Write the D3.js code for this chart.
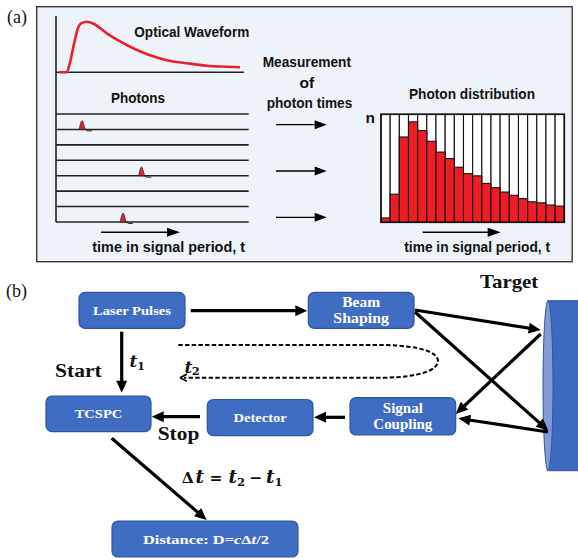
<!DOCTYPE html>
<html>
<head>
<meta charset="utf-8">
<script src="https://cdn.jsdelivr.net/npm/d3@7"></script>
<style>
  body { margin: 0; background: #fff; }
</style>
</head>
<body>
<div id="chart"></div>
<script>
// Panel (a): waveform, photon arrivals, and the resulting histogram.
// Panel (b): the TCSPC ranging block diagram.

const histCounts = [4, 26, 79, 93, 85, 75, 65, 59, 51, 45, 43, 36, 32, 28, 25, 22, 19, 18, 16, 15];
const waveT =   [1.6, 5.5, 7.5, 9.5, 11.5, 13.5, 16.6, 20, 27, 37.6, 48.2, 58.9, 69.5, 80.1, 90.8, 97.9];
const waveAmp = [0, 0, 0.2, 0.55, 0.85, 0.97, 1.0, 0.96, 0.77, 0.54, 0.36, 0.24, 0.18, 0.13, 0.11, 0.1];
const rowCount = 8;
const photonRows = [1, 4, 7];
const photonTimes = [14, 45.6, 35.8];

const boxNames = ["laser", "beam", "tcspc", "detector", "coupling", "distance"];
const boxLines = [["Laser Pulses"], ["Beam", "Shaping"], ["TCSPC"], ["Detector"], ["Signal", "Coupling"], ["Distance:  D="]];

const W = 578, H = 559;
const sans = "'Liberation Sans', Arial, sans-serif";
const serif = "'Liberation Serif', 'Times New Roman', serif";
const mathFont = "'DejaVu Serif', serif";
const BLUE = "#3f6dc4", BLUE_EDGE = "#2f559c";

const svg = d3.select("#chart").append("svg")
  .attr("width", W).attr("height", H).attr("viewBox", `0 0 ${W} ${H}`);
svg.append("rect").attr("width", W).attr("height", H).attr("fill", "#fff");

function label(g, str, x, y, o = {}) {
  const t = g.append("text").attr("x", x).attr("y", y).text(str)
    .attr("font-family", o.family || sans).attr("font-size", o.size || 15.5)
    .attr("font-weight", o.weight || "bold").attr("fill", o.fill || "#111")
    .attr("text-anchor", o.anchor || "start");
  if (o.len) t.attr("textLength", o.len).attr("lengthAdjust", "spacingAndGlyphs");
  if (o.style) t.attr("font-style", o.style);
  return t;
}

// straight arrow with a filled triangular head
function arrow(g, x1, y1, x2, y2, o = {}) {
  const sw = o.sw || 3.2, hl = o.hl || 12, hw = o.hw || 5.5, col = o.color || "#000";
  const a = Math.atan2(y2 - y1, x2 - x1);
  const bx = x2 - hl * Math.cos(a), by = y2 - hl * Math.sin(a);
  g.append("line").attr("x1", x1).attr("y1", y1).attr("x2", bx + Math.cos(a)).attr("y2", by + Math.sin(a))
    .attr("stroke", col).attr("stroke-width", sw);
  const px = -Math.sin(a) * hw, py = Math.cos(a) * hw;
  g.append("path").attr("d", `M${x2},${y2}L${bx + px},${by + py}L${bx - px},${by - py}Z`).attr("fill", col);
}

// ---------------- panel (a) ----------------
const ga = svg.append("g");
ga.append("rect").attr("x", 36.7).attr("y", 6.7).attr("width", 535.5).attr("height", 255)
  .attr("fill", "#eef2f9").attr("stroke", "#3a3a3a").attr("stroke-width", 1.4);
label(svg, "(a)", 7, 23, { family: serif, weight: "normal", size: 18 });

const xT = d3.scaleLinear().domain([0, 100]).range([56, 244]);
const yWave = d3.scaleLinear().domain([0, 1]).range([72.3, 21.7]);
const yRow = d3.scaleLinear().domain([0, rowCount - 1]).range([114, 222]);

// axes of the waveform/photon plot
ga.append("line").attr("x1", 56).attr("x2", 56).attr("y1", 16).attr("y2", yRow(rowCount - 1))
  .attr("stroke", "#222").attr("stroke-width", 1.6);
ga.append("line").attr("x1", 56).attr("x2", 244).attr("y1", yWave(0)).attr("y2", yWave(0))
  .attr("stroke", "#222").attr("stroke-width", 1.6);

const wave = waveT.map((t, i) => [t, waveAmp[i]]);
ga.append("path").datum(wave).attr("fill", "none").attr("stroke", "#e8212b").attr("stroke-width", 2.6)
  .attr("d", d3.line().x((d) => xT(d[0])).y((d) => yWave(d[1])).curve(d3.curveMonotoneX));
label(ga, "Optical Waveform", 134.3, 36.7, { len: 115 });

label(ga, "Photons", 111, 103, { len: 54 });
ga.append("g").selectAll("line").data(d3.range(rowCount)).join("line")
  .attr("x1", 56).attr("x2", 248.7).attr("y1", (d) => yRow(d)).attr("y2", (d) => yRow(d))
  .attr("stroke", "#222").attr("stroke-width", 1.6);

const spikes = ga.append("g").selectAll("g").data(photonRows).join("g")
  .attr("transform", (r, i) => `translate(${xT(photonTimes[i])},${yRow(r)})`);
spikes.append("path").attr("d", "M-3.2,0L-1.6,-6.5Q-0.3,-10.8 0.9,-7L2.8,0Z")
  .attr("fill", "#e8212b").attr("stroke", "#222").attr("stroke-width", 0.7);
spikes.append("path").attr("d", "M2.8,0Q4.5,2.2 9.5,1.4").attr("fill", "none")
  .attr("stroke", "#222").attr("stroke-width", 1);

arrow(ga, 101, 232.3, 180, 232.3, { sw: 1.5, hl: 13, hw: 4.5 });
label(ga, "time in signal period, t", 92.3, 251.7, { len: 152.7 });

// measurement text + arrows
label(ga, "Measurement", 262.7, 66.7, { len: 88.3 });
label(ga, "of", 306.8, 87.7, { anchor: "middle" });
label(ga, "photon times", 266.7, 108, { len: 85.6 });
[124.7, 171, 217.3].forEach((y) => arrow(ga, 276, y, 326.7, y, { sw: 1.3, hl: 12, hw: 4.5 }));

// histogram
const xBin = d3.scaleBand().domain(d3.range(histCounts.length)).range([381, 564.3]);
const yHist = d3.scaleLinear().domain([0, 100]).range([222.3, 114.3]);
const hist = ga.append("g");
hist.selectAll("rect.col").data(histCounts).join("rect").attr("class", "col")
  .attr("x", (d, i) => xBin(i)).attr("width", xBin.bandwidth())
  .attr("y", yHist(100)).attr("height", yHist(0) - yHist(100))
  .attr("fill", "#fff").attr("stroke", "#111").attr("stroke-width", 1.1);
hist.selectAll("rect.bar").data(histCounts).join("rect").attr("class", "bar")
  .attr("x", (d, i) => xBin(i)).attr("width", xBin.bandwidth())
  .attr("y", (d) => yHist(d)).attr("height", (d) => yHist(0) - yHist(d))
  .attr("fill", "#ee1c25").attr("stroke", "#111").attr("stroke-width", 1.1);
hist.append("rect").attr("x", 381).attr("y", yHist(100)).attr("width", 564.3 - 381).attr("height", yHist(0) - yHist(100))
  .attr("fill", "none").attr("stroke", "#111").attr("stroke-width", 1.6);
label(ga, "Photon distribution", 409, 99, { len: 126 });
label(ga, "n", 365.5, 123.3);
arrow(ga, 422.7, 232.3, 500.7, 232.3, { sw: 1.5, hl: 13, hw: 4.5 });
label(ga, "time in signal period, t", 404.3, 251.7, { len: 145.7 });

// ---------------- panel (b) ----------------
const gb = svg.append("g");
label(svg, "(b)", 6, 297, { family: serif, weight: "normal", size: 18 });

const layout = {
  laser: { x: 79, y: 292.3, w: 106, h: 36, size: 13, lh: 0 },
  beam: { x: 308.3, y: 292.3, w: 105.7, h: 36, size: 14, lh: 16.6 },
  tcspc: { x: 46, y: 396, w: 105, h: 35.7, size: 13, lh: 0 },
  detector: { x: 207.3, y: 399.5, w: 105.7, h: 36.2, size: 13, lh: 0 },
  coupling: { x: 350, y: 397.7, w: 105.7, h: 37.3, size: 14, lh: 16.6 },
  distance: { x: 112, y: 521, w: 186, h: 36, size: 13, lh: 0 },
};
const textLen = { laser: [78], beam: [38, 55.7], tcspc: [47.7], detector: [53.3], coupling: [40, 59] };

const boxes = gb.selectAll("g.box").data(boxNames).join("g").attr("class", "box");
boxes.append("rect")
  .attr("x", (n) => layout[n].x).attr("y", (n) => layout[n].y)
  .attr("width", (n) => layout[n].w).attr("height", (n) => layout[n].h)
  .attr("rx", 6).attr("fill", BLUE).attr("stroke", BLUE_EDGE).attr("stroke-width", 1.2);
boxes.each(function (n, i) {
  const L = layout[n], lines = boxLines[i];
  const cx = L.x + L.w / 2, cy = L.y + L.h / 2;
  const g = d3.select(this);
  if (n === "distance") {
    const t = g.append("text").attr("x", cx + 1).attr("y", cy + 4.8).attr("text-anchor", "middle")
      .attr("font-family", serif).attr("font-weight", "bold").attr("font-size", 13).attr("fill", "#fff")
      .attr("textLength", 126).attr("lengthAdjust", "spacingAndGlyphs");
    t.append("tspan").text(lines[0]);
    t.append("tspan").attr("font-style", "italic").text("c");
    t.append("tspan").text("Δ");
    t.append("tspan").attr("font-style", "italic").text("t");
    t.append("tspan").text("/2");
    return;
  }
  lines.forEach((s, k) => {
    const y = cy + 4.6 + (k - (lines.length - 1) / 2) * L.lh;
    label(g, s, cx, y, { family: serif, size: L.size, fill: "#fff", anchor: "middle", len: textLen[n][k] });
  });
});

// target cylinder
const tgt = { cx: 548, top: 300.7, bot: 470.7, rx: 5 };
gb.append("rect").attr("x", tgt.cx).attr("y", tgt.top).attr("width", 60).attr("height", tgt.bot - tgt.top)
  .attr("fill", "#3d69c0").attr("stroke", BLUE_EDGE).attr("stroke-width", 1);
gb.append("ellipse").attr("cx", tgt.cx).attr("cy", (tgt.top + tgt.bot) / 2).attr("rx", tgt.rx).attr("ry", (tgt.bot - tgt.top) / 2)
  .attr("fill", "#7f9cd8").attr("stroke", BLUE_EDGE).attr("stroke-width", 1);
label(gb, "Target", 480, 288.3, { family: serif, size: 19, len: 58.3 });

const b = layout;
arrow(gb, b.laser.x + b.laser.w + 5.7, 310.7, b.beam.x - 1, 310.7);
arrow(gb, 121.7, b.laser.y + b.laser.h + 3.4, 121.7, b.tcspc.y - 3.3);
arrow(gb, b.beam.x + b.beam.w + 1, 310, 540.7, 330);
arrow(gb, b.beam.x + b.beam.w + 1, 312, 548.3, 430.7);
arrow(gb, 540.7, 334, b.coupling.x + b.coupling.w, 414);
arrow(gb, 548, 432, b.coupling.x + b.coupling.w + 2.6, 418.3);
arrow(gb, b.coupling.x - 5, 417.3, b.detector.x + b.detector.w + 1, 417.3);
arrow(gb, b.detector.x - 7.3, 416.7, b.tcspc.x + b.tcspc.w + 0.7, 416.7);
arrow(gb, 111.7, 438.3, 206.7, 520);

// dashed return loop (t2)
gb.append("path")
  .attr("d", "M178.3,345L385,345C420,346 438,352 438,361C438,370 420,377 385,377.7L184,377.7")
  .attr("fill", "none").attr("stroke", "#000").attr("stroke-width", 2).attr("stroke-dasharray", "4.4,2.3");
gb.append("path").attr("d", "M180,377.7L187,374M180,377.7L187,381.4")
  .attr("fill", "none").attr("stroke", "#000").attr("stroke-width", 1.6);

label(gb, "Start", 55, 376.7, { family: serif, size: 18, len: 46.7 });
label(gb, "Stop", 157.7, 440, { family: serif, size: 18, len: 41.6 });

// math labels: each glyph placed explicitly
function mathText(g, y, parts) {
  const t = g.append("text").attr("y", y).attr("font-family", mathFont)
    .attr("font-weight", "bold").attr("fill", "#111");
  parts.forEach((p) => {
    const s = t.append("tspan").attr("x", p.x).attr("y", y + (p.dy || 0))
      .attr("font-size", p.size).text(p.s);
    if (p.it) s.attr("font-style", "italic");
  });
  return t;
}
mathText(gb, 367.3, [{ s: "t", x: 129.5, size: 17, it: true }, { s: "1", x: 137, size: 11.5, dy: 3 }]);
mathText(gb, 373.3, [{ s: "t", x: 184.5, size: 17, it: true }, { s: "2", x: 191.7, size: 11.5, dy: 2 }]);
mathText(gb, 483.3, [
  { s: "Δ", x: 181.7, size: 15.5 },
  { s: "t", x: 195.5, size: 18.5, it: true },
  { s: "=", x: 209.5, size: 15.5 },
  { s: "t", x: 228.5, size: 18.5, it: true },
  { s: "2", x: 237, size: 11.5, dy: 3 },
  { s: "−", x: 249.5, size: 15.5 },
  { s: "t", x: 266, size: 18.5, it: true },
  { s: "1", x: 274.5, size: 11.5, dy: 3 },
]);
</script>
</body>
</html>
